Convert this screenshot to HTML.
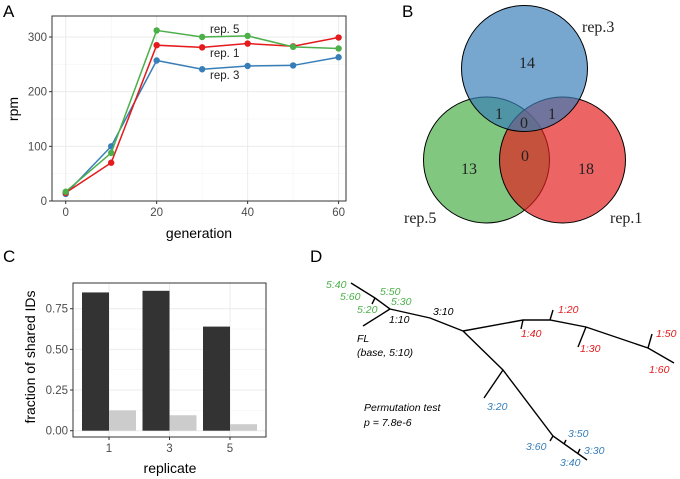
<!DOCTYPE html>
<html><head><meta charset="utf-8"><style>
body{margin:0;background:#fff;width:680px;height:479px;overflow:hidden}
svg{display:block;font-family:"Liberation Sans",sans-serif}
.tk{font-size:11.5px;fill:#4d4d4d}
.ttl{font-size:14px;fill:#000}
.pl{font-size:17px;fill:#000}
.tr{font-size:10.5px;font-style:italic}
.vn{font-family:"Liberation Serif",serif;font-size:16px;fill:#222}
</style></head><body>
<svg id="fig" width="680" height="479" viewBox="0 0 680 479">
<text class="pl" x="3" y="17">A</text>
<text class="pl" x="402" y="17">B</text>
<text class="pl" x="3" y="262">C</text>
<text class="pl" x="310" y="262">D</text>
<g id="pa"></g>
<g id="pc"></g>
<g id="pb">
 <circle cx="486.5" cy="160" r="63" fill="#4daf4a" fill-opacity="0.7" stroke="#000" stroke-width="1"/>
 <circle cx="562.5" cy="160" r="63" fill="#e41a1c" fill-opacity="0.68" stroke="#000" stroke-width="1"/>
 <circle cx="524.5" cy="68.5" r="63" fill="#377eb8" fill-opacity="0.68" stroke="#000" stroke-width="1"/>
 <text class="vn" x="527" y="68" text-anchor="middle">14</text>
 <text class="vn" x="499" y="119" text-anchor="middle">1</text>
 <text class="vn" x="552" y="119" text-anchor="middle">1</text>
 <text class="vn" x="524" y="128" text-anchor="middle">0</text>
 <text class="vn" x="525" y="161" text-anchor="middle">0</text>
 <text class="vn" x="469" y="174" text-anchor="middle">13</text>
 <text class="vn" x="586" y="174" text-anchor="middle">18</text>
 <text class="vn" x="582" y="32">rep.3</text>
 <text class="vn" x="404" y="223">rep.5</text>
 <text class="vn" x="610" y="223">rep.1</text>
</g>
<g id="pd" stroke="#000" stroke-width="1.4" fill="none">
 <polyline points="351,283 375,298 390,309"/>
 <line x1="375" y1="298" x2="372" y2="304"/>
 <line x1="363" y1="326" x2="390" y2="309"/>
 <polyline points="390,309 430,318 463,331"/>
 <polyline points="463,331 523,320 550,320 586,327 648,348 674,363"/>
 <line x1="523" y1="320" x2="521" y2="329"/>
 <line x1="550" y1="320" x2="553" y2="310"/>
 <line x1="586" y1="327" x2="578" y2="347"/>
 <line x1="648" y1="348" x2="652" y2="334"/>
 <polyline points="463,331 503,370 553,436 587,460"/>
 <line x1="503" y1="370" x2="484" y2="398"/>
 <line x1="553" y1="436" x2="550" y2="441"/>
 <line x1="564" y1="444" x2="566" y2="440"/>
 <line x1="578" y1="453" x2="580" y2="449"/>
</g>
<g stroke="none">
 <text class="tr" fill="#4daf4a" x="326" y="288">5:40</text>
 <text class="tr" fill="#4daf4a" x="340" y="300">5:60</text>
 <text class="tr" fill="#4daf4a" x="380" y="295">5:50</text>
 <text class="tr" fill="#4daf4a" x="391" y="305">5:30</text>
 <text class="tr" fill="#4daf4a" x="357" y="313">5:20</text>
 <text class="tr" fill="#000" x="389" y="323">1:10</text>
 <text class="tr" fill="#000" x="433" y="315">3:10</text>
 <text class="tr" fill="#000" x="357" y="342">FL</text>
 <text class="tr" fill="#000" x="357" y="356">(base, 5:10)</text>
 <text class="tr" fill="#e41a1c" x="558" y="313">1:20</text>
 <text class="tr" fill="#e41a1c" x="521" y="337">1:40</text>
 <text class="tr" fill="#e41a1c" x="580" y="352">1:30</text>
 <text class="tr" fill="#e41a1c" x="656" y="337">1:50</text>
 <text class="tr" fill="#e41a1c" x="649" y="373">1:60</text>
 <text class="tr" fill="#377eb8" x="487" y="410">3:20</text>
 <text class="tr" fill="#000" x="364" y="411">Permutation test</text>
 <text class="tr" fill="#000" x="364" y="426">p = 7.8e-6</text>
 <text class="tr" fill="#377eb8" x="568" y="437">3:50</text>
 <text class="tr" fill="#377eb8" x="526" y="450">3:60</text>
 <text class="tr" fill="#377eb8" x="584" y="454">3:30</text>
 <text class="tr" fill="#377eb8" x="560" y="466">3:40</text>
</g>
</svg>
<script>
const NS="http://www.w3.org/2000/svg";
// Panel A data
const generations=[0,10,20,30,40,50,60];
const rep1=[15,70,285,281,288,283,299];
const rep3=[13,100,257,241,247,248,263];
const rep5=[17,88,312,300,302,282,279];
const aXTicks=[0,20,40,60];
const aYTicks=[0,100,200,300];
// Panel C data
const replicates=["1","3","5"];
const sharedDark=[0.85,0.86,0.64];
const sharedLight=[0.125,0.095,0.04];
const cYTicks=[0,0.25,0.5,0.75];
const cYLabels=["0.00","0.25","0.50","0.75"];

function mk(tag,attrs,parent){const e=document.createElementNS(NS,tag);for(const k in attrs)e.setAttribute(k,attrs[k]);parent.appendChild(e);return e;}

// Panel A
(function(){
 const g=document.getElementById('pa');
 const L=52,R=346,T=16,B=201;
 const x=v=>65.7+v*(338.6-65.7)/60;
 const y=v=>201-v*(201-37)/300;
 let r=mk('rect',{x:L,y:T,width:R-L,height:B-T,fill:'#fff'},g);
 
 
 [10,30,50].forEach(v=>{let l=mk('line',{x1:x(v),x2:x(v),y1:T,y2:B,stroke:'#f3f3f3','stroke-width':0.6},g);});
 [50,150,250].forEach(v=>{let l=mk('line',{x1:L,x2:R,y1:y(v),y2:y(v),stroke:'#f3f3f3','stroke-width':0.6},g);});
 aXTicks.forEach(v=>{let l=mk('line',{x1:x(v),x2:x(v),y1:T,y2:B,stroke:'#ebebeb','stroke-width':1},g);
  let t=mk('line',{x1:x(v),x2:x(v),y1:B,y2:B+3,stroke:'#333'},g);
  let tx=mk('text',{x:x(v),y:B+15,'text-anchor':'middle',class:'tk'},g);tx.textContent=v;});
 aYTicks.forEach(v=>{let l=mk('line',{x1:L,x2:R,y1:y(v),y2:y(v),stroke:'#ebebeb','stroke-width':1},g);
  let t=mk('line',{x1:L-3,x2:L,y1:y(v),y2:y(v),stroke:'#333'},g);
  let tx=mk('text',{x:L-5,y:y(v)+4,'text-anchor':'end',class:'tk'},g);tx.textContent=v;});
 const series=[[rep3,'#377eb8','rep3'],[rep1,'#e41a1c','rep1'],[rep5,'#4daf4a','rep5']];
 series.forEach(([d,c,n])=>{
  let p=mk('polyline',{points:d.map((v,i)=>x(generations[i])+','+y(v)).join(' '),fill:'none',stroke:c,'stroke-width':1.5},g);
  
  d.forEach((v,i)=>{let c2=mk('circle',{cx:x(generations[i]),cy:y(v),r:3.2,fill:c},g);});
 });
 let b=mk('rect',{x:L,y:T,width:R-L,height:B-T,fill:'none',stroke:'#333','stroke-width':1},g);
 
 [['rep. 5',33],['rep. 1',57],['rep. 3',79]].forEach(([s,yy])=>{let t=mk('text',{x:210,y:yy,class:'tk',style:'fill:#222;font-size:11.5px'},g);t.textContent=s;});
 let xt=mk('text',{x:199,y:238,'text-anchor':'middle',class:'ttl'},g);xt.textContent='generation';
 let yt=mk('text',{x:0,y:0,'text-anchor':'middle',class:'ttl',transform:'translate(18,109) rotate(-90)'},g);yt.textContent='rpm';
})();

// Panel C
(function(){
 const g=document.getElementById('pc');
 const L=73,R=266,T=283,B=437;
 const y=v=>430.7-v*(430.7-308.7)/0.75;
 const gx=i=>82+i*60.5;
 const bw=27;
 let r=mk('rect',{x:L,y:T,width:R-L,height:B-T,fill:'#fff'},g);
 
 [0.125,0.375,0.625].forEach(v=>{let l=mk('line',{x1:L,x2:R,y1:y(v),y2:y(v),stroke:'#f3f3f3','stroke-width':0.6},g);});
 cYTicks.forEach((v,i)=>{let l=mk('line',{x1:L,x2:R,y1:y(v),y2:y(v),stroke:'#ebebeb'},g);
  let t=mk('line',{x1:L-3,x2:L,y1:y(v),y2:y(v),stroke:'#333'},g);
  let tx=mk('text',{x:L-5,y:y(v)+4,'text-anchor':'end',class:'tk'},g);tx.textContent=cYLabels[i];});
 replicates.forEach((rp,i)=>{const cx=gx(i)+bw;
  let l=mk('line',{x1:cx,x2:cx,y1:T,y2:B,stroke:'#ebebeb'},g);
  let d=mk('rect',{x:gx(i),y:y(sharedDark[i]),width:bw,height:y(0)-y(sharedDark[i]),fill:'#333333'},g);
  let lt=mk('rect',{x:gx(i)+bw,y:y(sharedLight[i]),width:bw,height:y(0)-y(sharedLight[i]),fill:'#cccccc'},g);
  let t=mk('line',{x1:cx,x2:cx,y1:B,y2:B+3,stroke:'#333'},g);
  let tx=mk('text',{x:cx,y:B+15,'text-anchor':'middle',class:'tk'},g);tx.textContent=rp;});
 let b=mk('rect',{x:L,y:T,width:R-L,height:B-T,fill:'none',stroke:'#333'},g);
 
 let xt=mk('text',{x:170,y:473,'text-anchor':'middle',class:'ttl'},g);xt.textContent='replicate';
 let yt=mk('text',{x:0,y:0,'text-anchor':'middle',class:'ttl',transform:'translate(35,357) rotate(-90)'},g);yt.textContent='fraction of shared IDs';
})();
</script>
</body></html>
